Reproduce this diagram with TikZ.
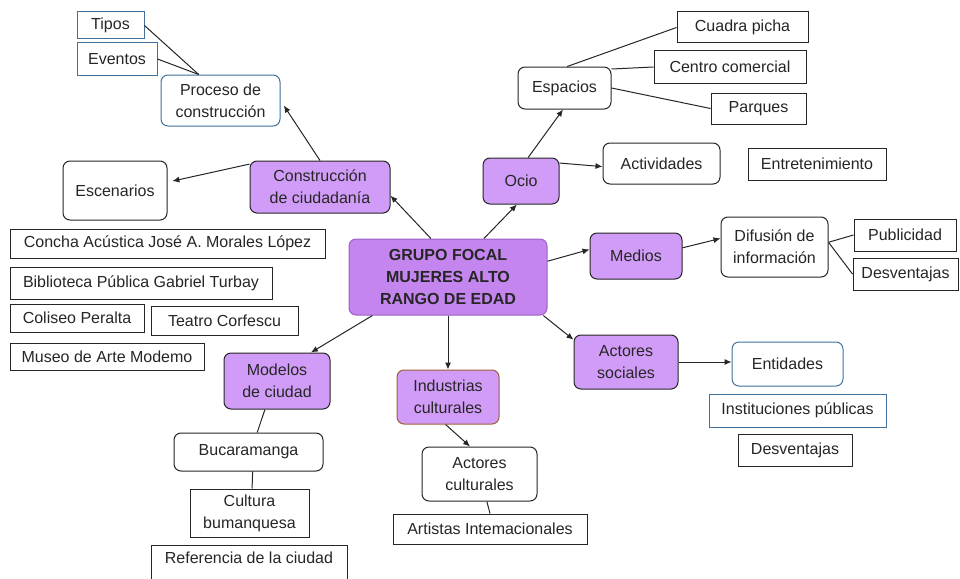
\documentclass[tikz,border=0pt]{standalone}
\usepackage{fontspec}
\setmainfont{Liberation Sans}
\usetikzlibrary{arrows.meta}
\definecolor{lila}{HTML}{D19CF7}
\definecolor{lilamain}{HTML}{C485EE}
\definecolor{lilaedge}{HTML}{9C62C8}
\definecolor{azul}{HTML}{41719C}
\definecolor{cafe}{HTML}{A0603A}
\definecolor{tinta}{HTML}{262626}

\begin{document}
\begin{tikzpicture}[x=1pt,y=-1pt,
  every node/.style={font=\fontsize{16}{22}\selectfont, text=tinta, align=center, inner sep=0pt},
  sqbox/.style={draw=tinta, line width=1pt, rectangle},
  rdbox/.style={draw=tinta, line width=1pt, rectangle, rounded corners=7pt},
  bluesq/.style={sqbox, draw=azul},
  bluerd/.style={rdbox, draw=azul},
  lilabox/.style={rdbox, fill=lila},
  mainbox/.style={rdbox, fill=lilamain, draw=lilaedge, font=\fontsize{16}{22}\selectfont\bfseries},
  link/.style={draw=tinta, line width=1pt},
  >={Latex[length=7pt,width=6pt]}]
  \fill[white] (0,0) rectangle (960,578);
  \useasboundingbox (0,0) rectangle (960,578);

  % centro
  \node[mainbox, minimum width=198, minimum height=76] (grupo) at (448,277) {GRUPO FOCAL\\MUJERES ALTO\\RANGO DE EDAD};

  % construccion de ciudadania
  \node[lilabox, minimum width=140, minimum height=52] (constr) at (320,187) {Construcción\\de ciudadanía};
  \node[bluerd, minimum width=119, minimum height=51] (proceso) at (220.5,100.5) {Proceso de\\construcción};
  \node[bluesq, minimum width=67, minimum height=27] (tipos) at (110.5,25.5) {Tipos};
  \node[bluesq, minimum width=80, minimum height=32] (eventos) at (117,59) {Eventos};
  \node[rdbox, minimum width=104, minimum height=59] (escen) at (115,190.5) {Escenarios};
  \node[sqbox, minimum width=315, minimum height=29] (concha) at (167.5,243.5) {Concha Acústica José A. Morales López};
  \node[sqbox, minimum width=262, minimum height=32] (biblio) at (141,283) {Biblioteca Pública Gabriel Turbay};
  \node[sqbox, minimum width=134, minimum height=28] (coliseo) at (77,318) {Coliseo Peralta};
  \node[sqbox, minimum width=147, minimum height=29] (teatro) at (224.5,320.5) {Teatro Corfescu};
  \node[sqbox, minimum width=194, minimum height=27] (museo) at (107,356.5) {Museo de Arte Modemo};

  % modelos de ciudad
  \node[lilabox, minimum width=106, minimum height=56] (modelos) at (277,381) {Modelos\\de ciudad};
  \node[rdbox, minimum width=149, minimum height=38] (bucar) at (248.5,452) {Bucaramanga};
  \node[sqbox, minimum width=119, minimum height=48] (cultura) at (249.5,513) {Cultura\\bumanquesa};
  \node[sqbox, anchor=north, minimum width=196, text height=12, text depth=22, inner ysep=6pt] (refer) at (249,545) {Referencia de la ciudad};

  % industrias culturales
  \node[lilabox, draw=cafe, minimum width=102, minimum height=54] (indus) at (448,397) {Industrias\\culturales};
  \node[rdbox, minimum width=115, minimum height=54] (actcult) at (479.5,474) {Actores\\culturales};
  \node[sqbox, minimum width=194, minimum height=30] (artist) at (490,529) {Artistas Intemacionales};

  % ocio
  \node[lilabox, minimum width=76, minimum height=46] (ocio) at (521,181) {Ocio};
  \node[rdbox, minimum width=93, minimum height=42] (espac) at (564.5,88) {Espacios};
  \node[sqbox, minimum width=131, minimum height=31] (cuadra) at (742.5,27.5) {Cuadra picha};
  \node[sqbox, minimum width=152, minimum height=32] (centro) at (730,67) {Centro comercial};
  \node[sqbox, minimum width=95, minimum height=31] (parques) at (758.5,108.5) {Parques};
  \node[rdbox, minimum width=117, minimum height=41] (activ) at (661.5,163.5) {Actividades};
  \node[sqbox, minimum width=138, minimum height=32] (entret) at (817,164) {Entretenimiento};

  % medios
  \node[lilabox, minimum width=92, minimum height=46] (medios) at (636,256) {Medios};
  \node[rdbox, minimum width=107, minimum height=60] (difus) at (774.5,247) {Difusión de\\información};
  \node[sqbox, minimum width=102, minimum height=32] (public) at (905,235) {Publicidad};
  \node[sqbox, minimum width=105, minimum height=32] (desvA) at (905.5,274) {Desventajas};

  % actores sociales
  \node[lilabox, minimum width=104, minimum height=54] (actsoc) at (626,362) {Actores\\sociales};
  \node[bluerd, minimum width=111, minimum height=44] (entid) at (787.5,364) {Entidades};
  \node[bluesq, minimum width=177, minimum height=33] (instit) at (797.5,410.5) {Instituciones públicas};
  \node[sqbox, minimum width=114, minimum height=32] (desvB) at (795,450) {Desventajas};

  % conectores
  \draw[link,->] (grupo.114) -- (constr.-7);
  \draw[link,->] (grupo.47) -- (ocio.-100);
  \draw[link,->] (grupo.9) -- (medios.172);
  \draw[link,->] (grupo.-22) -- (actsoc.157);
  \draw[link,->] (grupo.south) -- (indus.north);
  \draw[link,->] (grupo.207) -- (modelos.40);

  \draw[link,->,shorten >=6pt] (constr.north) -- (proceso.east);
  \draw[link,->,shorten >=5pt] (constr.162) -- (escen.9);
  \draw[link] (tipos.east) -- (proceso.130);
  \draw[link] (eventos.east) -- (proceso.130);

  \draw[link] (modelos.-113) -- (bucar.66);
  \draw[link] (bucar.-78) -- (cultura.84);

  \draw[link,->] (indus.-95) -- (actcult.109);
  \draw[link] (actcult.-75) -- (artist.north);

  \draw[link,->] (ocio.73) -- (espac.-94);
  \draw[link,->] (ocio.25) -- (activ.183);
  \draw[link] (espac.83) -- (cuadra.west);
  \draw[link] (espac.22) -- (centro.west);
  \draw[link] (espac.east) -- (parques.west);

  \draw[link,->] (medios.10) -- (difus.171);
  \draw[link] (difus.5) -- (public.west);
  \draw[link] (difus.5) -- (desvA.west);

  \draw[link,->] (actsoc.east) -- (actsoc.east -| entid.west);
\end{tikzpicture}
\end{document}
